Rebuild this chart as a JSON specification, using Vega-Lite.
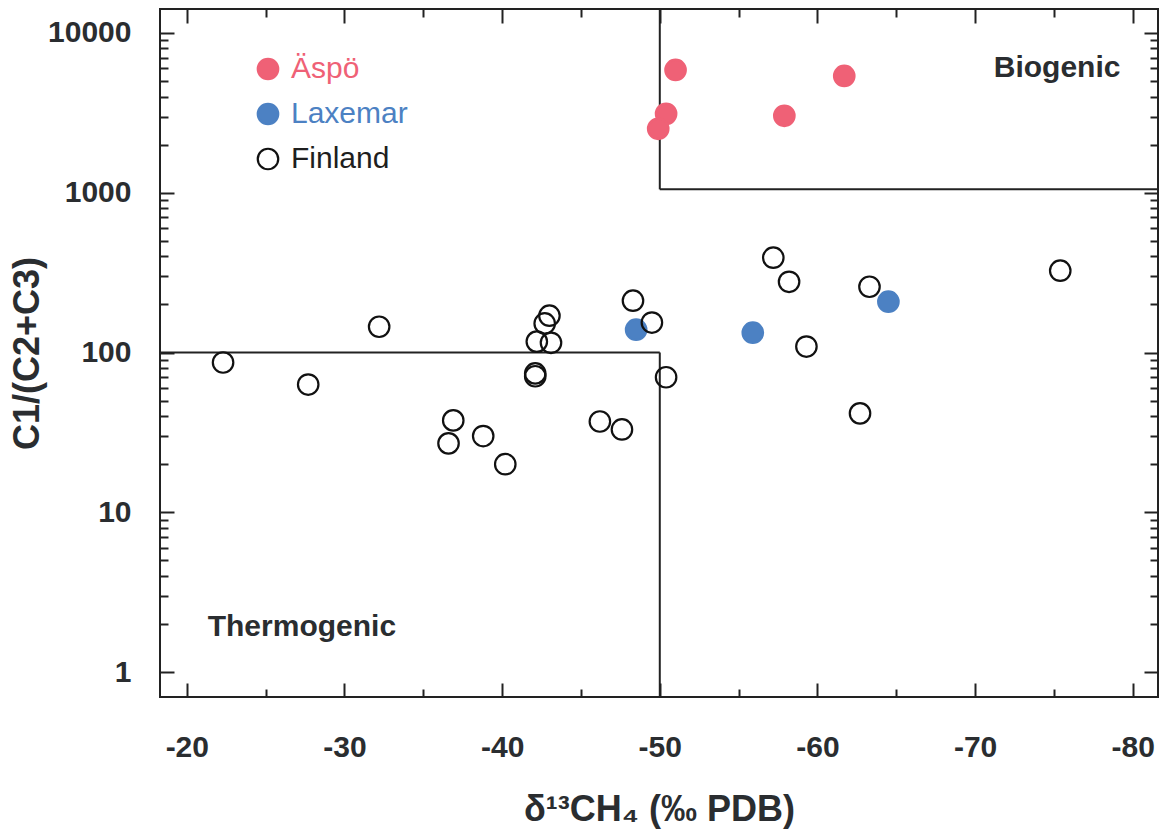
{
  "$schema": "https://vega.github.io/schema/vega-lite/v6.json",
  "width": 998,
  "height": 688,
  "autosize": {"type": "none"},
  "padding": {"left": 160, "top": 9, "right": 9, "bottom": 142},
  "background": "white",
  "config": {
    "font": "Liberation Sans",
    "view": {"stroke": "#222", "strokeWidth": 2},
    "axis": {"domain": false, "grid": false, "tickColor": "#222", "tickWidth": 2}
  },
  "datasets": {
    "samples": [
      {"site": "Äspö", "d13c": -51.0, "ratio": 5870},
      {"site": "Äspö", "d13c": -50.4, "ratio": 3117},
      {"site": "Äspö", "d13c": -49.9, "ratio": 2512},
      {"site": "Äspö", "d13c": -57.9, "ratio": 3030},
      {"site": "Äspö", "d13c": -61.7, "ratio": 5385},
      {"site": "Laxemar", "d13c": -48.5, "ratio": 139},
      {"site": "Laxemar", "d13c": -55.9, "ratio": 133},
      {"site": "Laxemar", "d13c": -64.5, "ratio": 208},
      {"site": "Finland", "d13c": -22.3, "ratio": 86.6},
      {"site": "Finland", "d13c": -27.7, "ratio": 63},
      {"site": "Finland", "d13c": -32.2, "ratio": 145},
      {"site": "Finland", "d13c": -36.6, "ratio": 27},
      {"site": "Finland", "d13c": -36.9, "ratio": 37.6},
      {"site": "Finland", "d13c": -38.8, "ratio": 30},
      {"site": "Finland", "d13c": -40.2, "ratio": 20},
      {"site": "Finland", "d13c": -42.2, "ratio": 117},
      {"site": "Finland", "d13c": -42.1, "ratio": 74},
      {"site": "Finland", "d13c": -42.1, "ratio": 71},
      {"site": "Finland", "d13c": -42.7, "ratio": 152},
      {"site": "Finland", "d13c": -43.0, "ratio": 170},
      {"site": "Finland", "d13c": -43.1, "ratio": 115},
      {"site": "Finland", "d13c": -46.2, "ratio": 37},
      {"site": "Finland", "d13c": -47.6, "ratio": 33},
      {"site": "Finland", "d13c": -48.3, "ratio": 211},
      {"site": "Finland", "d13c": -49.5, "ratio": 154},
      {"site": "Finland", "d13c": -50.4, "ratio": 70},
      {"site": "Finland", "d13c": -57.2, "ratio": 392},
      {"site": "Finland", "d13c": -58.2, "ratio": 277},
      {"site": "Finland", "d13c": -59.3, "ratio": 109},
      {"site": "Finland", "d13c": -63.3, "ratio": 258},
      {"site": "Finland", "d13c": -62.7, "ratio": 41.6},
      {"site": "Finland", "d13c": -75.4, "ratio": 325}
    ],
    "thermoBounds": [
      {"x": -18.3, "x2": -50, "y": 100, "y2": 100},
      {"x": -50, "x2": -50, "y": 100, "y2": 0.698}
    ],
    "bioBounds": [
      {"x": -50, "x2": -50, "y": 14125, "y2": 1050},
      {"x": -50, "x2": -81.6, "y": 1050, "y2": 1050}
    ],
    "zones": [
      {"zone": "Biogenic", "x": -75.2, "y": 5300},
      {"zone": "Thermogenic", "x": -27.3, "y": 1.68}
    ]
  },
  "layer": [
    {
      "data": {"name": "thermoBounds"},
      "mark": {"type": "rule", "color": "#222", "strokeWidth": 2},
      "encoding": {
        "x": {
          "field": "x", "type": "quantitative",
          "scale": {"domain": [-81.6, -18.3], "reverse": true, "nice": false, "zero": false},
          "axis": {
            "orient": "bottom", "values": [-80, -70, -60, -50, -40, -30, -20],
            "tickSize": -14,
            "labelExpr": "'' + datum.value",
            "labelFont": "Liberation Sans", "labelFontWeight": "bold", "labelFontSize": 30,
            "labelColor": "#2a2d30", "labelPadding": 49,
            "title": "δ¹³CH₄ (‰ PDB)",
            "titleFont": "Liberation Sans", "titleFontWeight": "bold", "titleFontSize": 36,
            "titleColor": "#2a2d30", "titlePadding": 30
          }
        },
        "x2": {"field": "x2"},
        "y": {
          "field": "y", "type": "quantitative",
          "scale": {"type": "log", "domain": [0.698, 14125], "nice": false},
          "axis": {
            "orient": "left", "values": [1, 10, 100, 1000, 10000],
            "tickSize": -14,
            "labelExpr": "'' + datum.value",
            "labelFont": "Liberation Sans", "labelFontWeight": "bold", "labelFontSize": 30,
            "labelColor": "#2a2d30", "labelPadding": 43,
            "title": "C1/(C2+C3)",
            "titleFont": "Liberation Sans", "titleFontWeight": "bold", "titleFontSize": 36,
            "titleColor": "#2a2d30", "titlePadding": 1
          }
        },
        "y2": {"field": "y2"}
      }
    },
    {
      "data": {"name": "bioBounds"},
      "mark": {"type": "rule", "color": "#222", "strokeWidth": 2},
      "encoding": {
        "x": {
          "field": "x", "type": "quantitative",
          "scale": {"domain": [-81.6, -18.3], "reverse": true, "nice": false, "zero": false},
          "axis": {"orient": "top", "values": [-80, -70, -60, -50, -40, -30, -20], "tickSize": -14, "labels": false, "title": null}
        },
        "x2": {"field": "x2"},
        "y": {
          "field": "y", "type": "quantitative",
          "scale": {"type": "log", "domain": [0.698, 14125], "nice": false},
          "axis": {"orient": "right", "values": [1, 10, 100, 1000, 10000], "tickSize": -14, "labels": false, "title": null}
        },
        "y2": {"field": "y2"}
      }
    },
    {
      "data": {"name": "samples"},
      "mark": {"type": "point", "shape": "circle", "size": 420, "strokeWidth": 2.2, "opacity": 1},
      "encoding": {
        "x": {
          "field": "d13c", "type": "quantitative",
          "scale": {"domain": [-81.6, -18.3], "reverse": true, "nice": false, "zero": false},
          "axis": {"orient": "bottom", "values": [-75, -65, -55, -45, -35, -25], "tickSize": -8, "labels": false, "title": null}
        },
        "y": {
          "field": "ratio", "type": "quantitative",
          "scale": {"type": "log", "domain": [0.698, 14125], "nice": false},
          "axis": {
            "orient": "left",
            "values": [2, 3, 4, 5, 6, 7, 8, 9, 20, 30, 40, 50, 60, 70, 80, 90, 200, 300, 400, 500, 600, 700, 800, 900, 2000, 3000, 4000, 5000, 6000, 7000, 8000, 9000],
            "tickSize": -8, "labels": false, "title": null
          }
        },
        "fill": {
          "field": "site", "type": "nominal",
          "scale": {"domain": ["Äspö", "Laxemar", "Finland"], "range": ["#ef6176", "#4c81c3", "transparent"]},
          "legend": {
            "title": null, "orient": "none", "legendX": 93, "legendY": 45,
            "padding": 0, "symbolType": "circle", "symbolSize": 420, "symbolStrokeWidth": 2.2,
            "labelFont": "Liberation Sans", "labelFontSize": 30, "labelOffset": 8,
            "rowPadding": 15,
            "labelColor": {"expr": "datum.value === 'Äspö' ? '#ef6176' : datum.value === 'Laxemar' ? '#4c81c3' : '#1e1e1e'"}
          }
        },
        "stroke": {
          "field": "site", "type": "nominal",
          "scale": {"domain": ["Äspö", "Laxemar", "Finland"], "range": ["#ef6176", "#4c81c3", "#111111"]},
          "legend": {
            "title": null, "orient": "none", "legendX": 93, "legendY": 45,
            "padding": 0, "symbolType": "circle", "symbolSize": 420, "symbolStrokeWidth": 2.2,
            "labelFont": "Liberation Sans", "labelFontSize": 30, "labelOffset": 8,
            "rowPadding": 15,
            "labelColor": {"expr": "datum.value === 'Äspö' ? '#ef6176' : datum.value === 'Laxemar' ? '#4c81c3' : '#1e1e1e'"}
          }
        }
      }
    },
    {
      "data": {"name": "zones"},
      "mark": {"type": "text", "font": "Liberation Sans", "fontWeight": "bold", "fontSize": 30, "color": "#2a2d30", "align": "center", "baseline": "alphabetic"},
      "encoding": {
        "x": {
          "field": "x", "type": "quantitative",
          "scale": {"domain": [-81.6, -18.3], "reverse": true, "nice": false, "zero": false},
          "axis": {"orient": "top", "values": [-75, -65, -55, -45, -35, -25], "tickSize": -8, "labels": false, "title": null}
        },
        "y": {
          "field": "y", "type": "quantitative",
          "scale": {"type": "log", "domain": [0.698, 14125], "nice": false},
          "axis": {
            "orient": "right",
            "values": [2, 3, 4, 5, 6, 7, 8, 9, 20, 30, 40, 50, 60, 70, 80, 90, 200, 300, 400, 500, 600, 700, 800, 900, 2000, 3000, 4000, 5000, 6000, 7000, 8000, 9000],
            "tickSize": -8, "labels": false, "title": null
          }
        },
        "text": {"field": "zone"}
      }
    }
  ],
  "resolve": {"axis": {"x": "independent", "y": "independent"}}
}
